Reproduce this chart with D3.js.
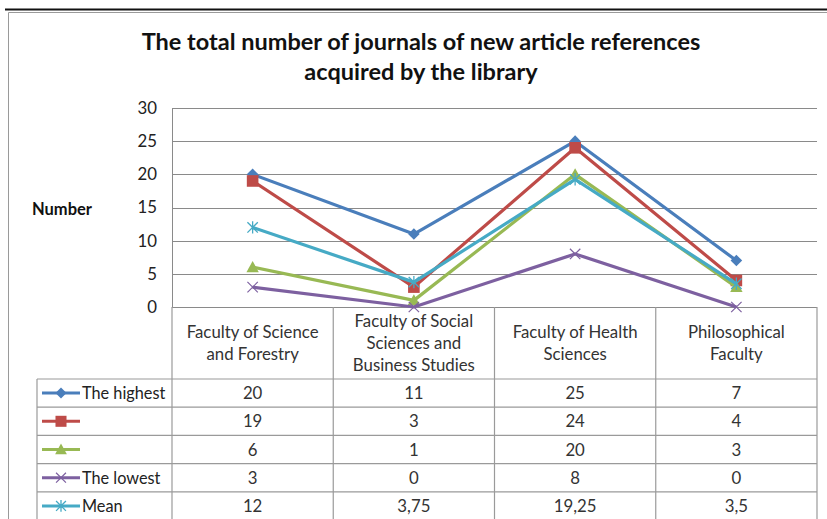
<!DOCTYPE html>
<html>
<head>
<meta charset="utf-8">
<script src="https://cdn.jsdelivr.net/npm/d3@7"></script>
<style>
  html, body { margin: 0; padding: 0; background: #fff; }
  svg { display: block; }
  text { font-family: Lato, "Open Sans", sans-serif; }
</style>
</head>
<body>
<svg id="chart" width="827" height="519"></svg>
<script>
// Faculties (category axis), each split into its header lines
const categories = [
  ["Faculty of Science", "and Forestry"],
  ["Faculty of Social", "Sciences and", "Business Studies"],
  ["Faculty of Health", "Sciences"],
  ["Philosophical", "Faculty"]
];
const seriesNames = ["The highest", "", "", "The lowest", "Mean"];
const highest = [20, 11, 25, 7];
const second  = [19, 3, 24, 4];
const third   = [6, 1, 20, 3];
const lowest  = [3, 0, 8, 0];
const mean    = [12, 3.75, 19.25, 3.5];
const yTicks  = [0, 5, 10, 15, 20, 25, 30];
const titleLines = ["The total number of journals of new article references", "acquired by the library"];
const axisTitle = "Number";

const seriesValues = [highest, second, third, lowest, mean];
const seriesColors = ["#4a7ebb", "#be4b48", "#98b954", "#7d60a0", "#46aac5"];
const seriesMarkers = ["diamond", "square", "triangle", "x", "star"];

const svg = d3.select("#chart");
const W = 827, H = 519;
const plot = { left: 172, right: 817, top: 108, bottom: 307 };
const rowH = 28.2;
const headerBottom = 379;
const legendLeft = 37;
const bodySize = 16.8;

const catIdx = d3.range(categories.length);
const x = d3.scaleBand().domain(catIdx).range([plot.left, plot.right]).padding(0);
const y = d3.scaleLinear().domain([0, 30]).range([plot.bottom, plot.top]);
const cx = i => x(i) + x.bandwidth() / 2;

// outer frame
svg.append("line").attr("x1", 5).attr("x2", W).attr("y1", 9.5).attr("y2", 9.5)
  .attr("stroke", "#111").attr("stroke-width", 2);
svg.append("path").attr("d", `M8.5,${H} V12.5 H${W}`)
  .attr("fill", "none").attr("stroke", "#9a9a9a").attr("stroke-width", 1);

// title
svg.append("text").attr("text-anchor", "middle").attr("font-weight", "bold")
  .attr("font-size", 23.5).attr("fill", "#111")
  .selectAll("tspan").data(titleLines).join("tspan")
  .attr("x", 421).attr("y", (d, i) => 50 + i * 30).text(d => d);

// gridlines and y axis
const yAxis = d3.axisLeft(y).tickValues(yTicks).tickSize(0).tickPadding(15);
const gy = svg.append("g").attr("transform", `translate(${plot.left},0)`).call(yAxis);
gy.select(".domain").attr("stroke", "#888");
gy.selectAll(".tick text").attr("font-size", bodySize).attr("fill", "#222")
  .attr("font-family", "Lato, sans-serif");
svg.append("g").selectAll("line").data(yTicks).join("line")
  .attr("x1", plot.left).attr("x2", plot.right)
  .attr("y1", d => Math.round(y(d)) + 0.5).attr("y2", d => Math.round(y(d)) + 0.5)
  .attr("stroke", "#8a8a8a").attr("stroke-width", 1.2);
svg.append("line").attr("x1", plot.left + 0.5).attr("x2", plot.left + 0.5)
  .attr("y1", plot.top).attr("y2", plot.bottom).attr("stroke", "#8a8a8a");

svg.append("text").attr("x", 32).attr("y", 215).attr("font-weight", "bold")
  .attr("font-size", 16.5).attr("fill", "#111").text(axisTitle);

// data table grid
const tableG = svg.append("g").attr("stroke", "#9a9a9a").attr("stroke-width", 1.2);
const bounds = catIdx.map(i => x(i)).concat([plot.right]);
tableG.selectAll("line.v").data(bounds).join("line").attr("class", "v")
  .attr("x1", d => d).attr("x2", d => d).attr("y1", plot.bottom).attr("y2", H);
const rowTops = d3.range(seriesValues.length).map(r => headerBottom + r * rowH);
tableG.selectAll("line.h").data(rowTops).join("line").attr("class", "h")
  .attr("x1", legendLeft).attr("x2", plot.right).attr("y1", d => d).attr("y2", d => d);
tableG.append("line").attr("x1", legendLeft).attr("x2", legendLeft).attr("y1", headerBottom).attr("y2", H);

// header text
const headerMid = (plot.bottom + headerBottom) / 2;
svg.append("g").selectAll("text").data(categories).join("text")
  .attr("text-anchor", "middle").attr("font-size", bodySize).attr("fill", "#333")
  .each(function (lines, i) {
    const t = d3.select(this);
    const lh = 22;
    const y0 = headerMid - (lines.length - 1) * lh / 2 + 6;
    t.selectAll("tspan").data(lines).join("tspan")
      .attr("x", cx(i)).attr("y", (d, k) => y0 + k * lh).text(d => d);
  });

// marker shapes
function drawMarker(g, type, color, px, py, s) {
  s = s || 1;
  if (type === "diamond") {
    const r = 5.8 * s;
    g.append("path").attr("d", `M${px},${py - r}L${px + r},${py}L${px},${py + r}L${px - r},${py}Z`).attr("fill", color);
  } else if (type === "square") {
    const r = 5.8 * s;
    g.append("rect").attr("x", px - r).attr("y", py - r).attr("width", 2 * r).attr("height", 2 * r).attr("fill", color);
  } else if (type === "triangle") {
    const r = 6.2 * s;
    g.append("path").attr("d", `M${px},${py - r}L${px + r},${py + r * 0.8}L${px - r},${py + r * 0.8}Z`).attr("fill", color);
  } else if (type === "x") {
    const r = 5.2 * s;
    g.append("path").attr("d", `M${px - r},${py - r}L${px + r},${py + r}M${px - r},${py + r}L${px + r},${py - r}`)
      .attr("stroke", color).attr("stroke-width", 1.2).attr("fill", "none");
  } else if (type === "star") {
    const r = 5.2 * s;
    g.append("path").attr("d", `M${px - r},${py - r}L${px + r},${py + r}M${px - r},${py + r}L${px + r},${py - r}M${px},${py - r - 1}L${px},${py + r + 1}`)
      .attr("stroke", color).attr("stroke-width", 1.3).attr("fill", "none");
  }
}

// series lines and markers
const line = d3.line().x((d, i) => cx(i)).y(d => y(d));
seriesValues.forEach((vals, s) => {
  const g = svg.append("g");
  g.append("path").datum(vals).attr("d", line).attr("fill", "none")
    .attr("stroke", seriesColors[s]).attr("stroke-width", 3.2).attr("stroke-linejoin", "round");
  vals.forEach((v, i) => drawMarker(g, seriesMarkers[s], seriesColors[s], cx(i), y(v)));
});

// table rows: legend key, series name and values
const fmt = v => String(v).replace(".", ",");
seriesValues.forEach((vals, s) => {
  const mid = rowTops[s] + rowH / 2;
  const g = svg.append("g");
  g.append("line").attr("x1", 42).attr("x2", 80).attr("y1", mid).attr("y2", mid)
    .attr("stroke", seriesColors[s]).attr("stroke-width", 3);
  drawMarker(g, seriesMarkers[s], seriesColors[s], 61, mid, 0.95);
  g.append("text").attr("x", 82).attr("y", mid + 6).attr("font-size", 16.3).attr("fill", "#222")
    .text(seriesNames[s]);
  g.selectAll("text.v").data(vals).join("text").attr("class", "v")
    .attr("x", (d, i) => cx(i)).attr("y", mid + 6).attr("text-anchor", "middle")
    .attr("font-size", bodySize).attr("fill", "#333").text(d => fmt(d));
});
</script>
</body>
</html>
